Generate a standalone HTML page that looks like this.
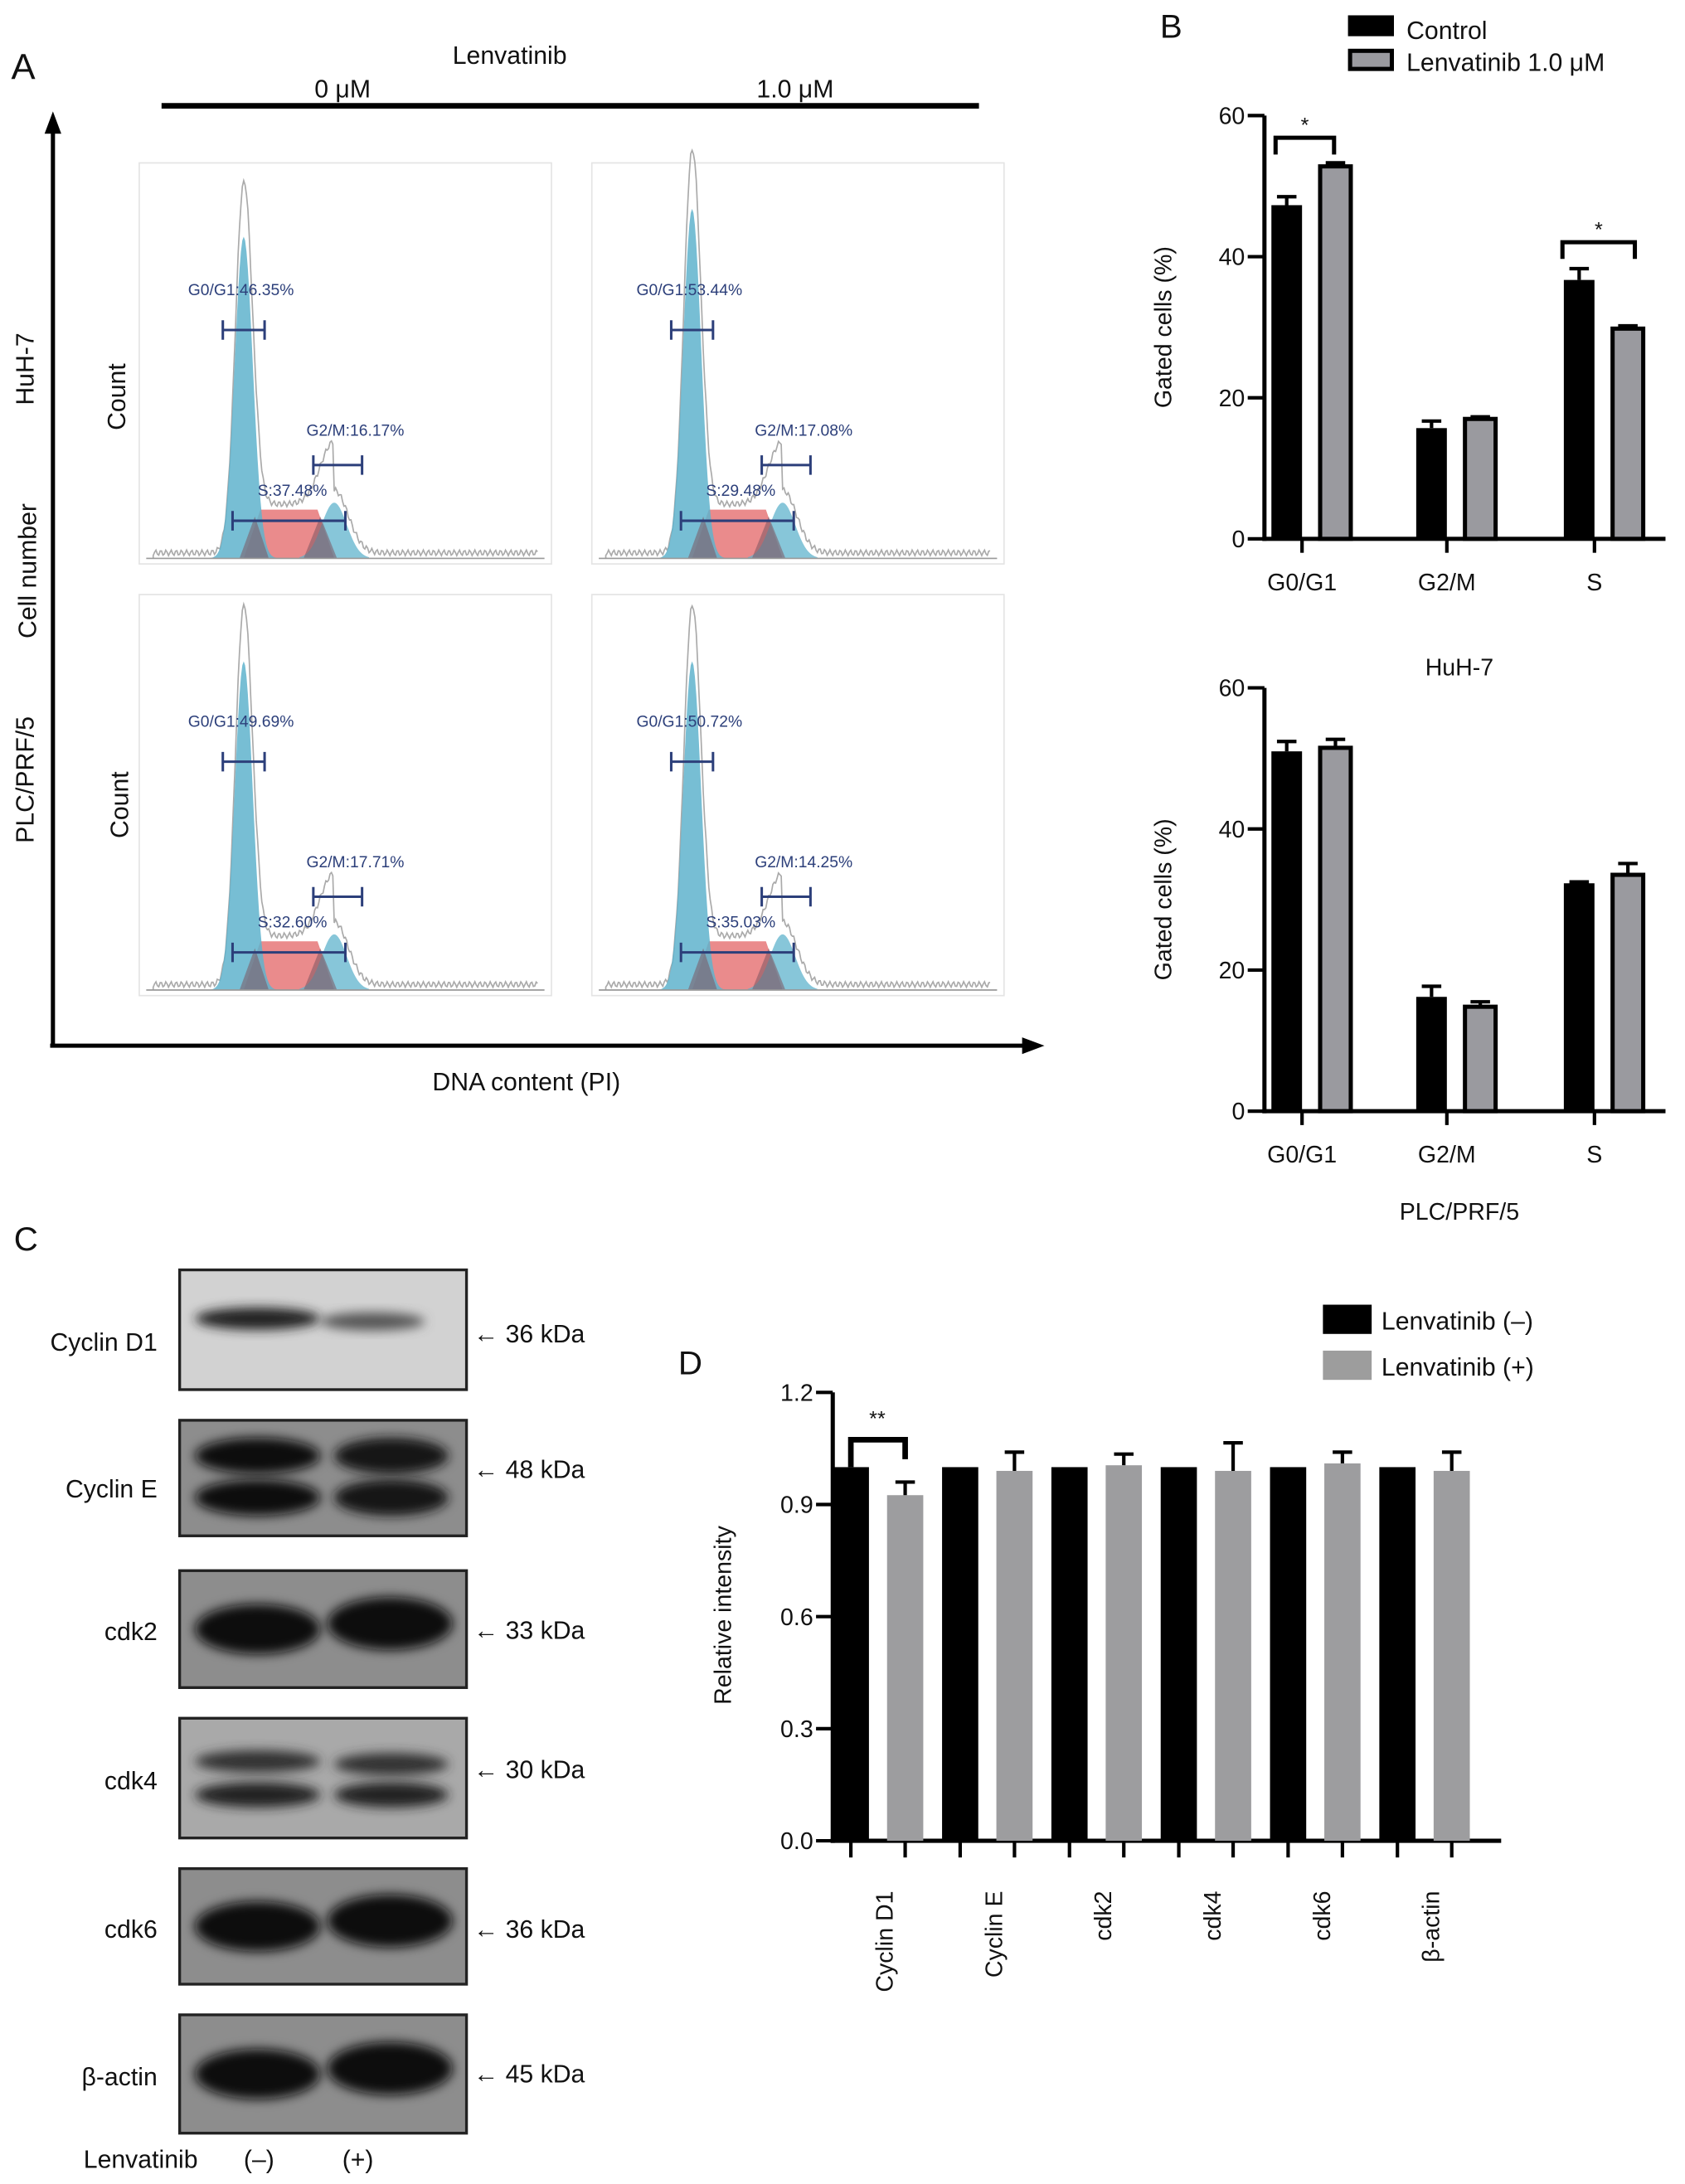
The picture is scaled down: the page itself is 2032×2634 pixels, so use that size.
<!DOCTYPE html>
<html><head><meta charset="utf-8"><style>
html,body{margin:0;padding:0;background:#fff}
svg{display:block}
text{font-family:"Liberation Sans",Arial,sans-serif;fill:#111}
</style></head><body>
<svg id="fig" xmlns="http://www.w3.org/2000/svg" width="2032" height="2634" viewBox="0 0 1210 1568.5">
<defs>
<filter id="blur2" x="-20%" y="-50%" width="140%" height="200%"><feGaussianBlur stdDeviation="4"/></filter>
</defs>
<g id="panelA">
<text x="8" y="57" font-size="26">A</text>
<text x="366" y="46" font-size="18" text-anchor="middle">Lenvatinib</text>
<text x="246" y="70" font-size="18" text-anchor="middle" font-family="Liberation Serif">0 μM</text>
<text x="571" y="70" font-size="18" text-anchor="middle" font-family="Liberation Serif">1.0 μM</text>
<line x1="116" y1="76" x2="703" y2="76" stroke="#000" stroke-width="4"/>
<line x1="38" y1="752" x2="38" y2="92" stroke="#000" stroke-width="3"/>
<polygon points="38,80 32,96 44,96" fill="#000"/>
<line x1="36" y1="751" x2="736" y2="751" stroke="#000" stroke-width="3"/>
<polygon points="750,751 734,745 734,757" fill="#000"/>
<text transform="translate(24,265) rotate(-90)" font-size="18" text-anchor="middle">HuH-7</text>
<text transform="translate(26,410) rotate(-90)" font-size="18" text-anchor="middle">Cell number</text>
<text transform="translate(24,560) rotate(-90)" font-size="18" text-anchor="middle">PLC/PRF/5</text>
<text transform="translate(90,285) rotate(-90)" font-size="18" text-anchor="middle">Count</text>
<text transform="translate(92,578) rotate(-90)" font-size="18" text-anchor="middle">Count</text>
<text x="378" y="783" font-size="18" text-anchor="middle">DNA content (PI)</text>
</g>
<g id="panelB">
<text x="833" y="27" font-size="24">B</text>
<rect x="968" y="11" width="33" height="15" fill="#000"/>
<text x="1010" y="28" font-size="18">Control</text>
<rect x="969.5" y="36.5" width="30" height="13" fill="#9a9a9f" stroke="#000" stroke-width="3"/>
<text x="1010" y="51" font-size="18">Lenvatinib 1.0 μM</text>
<text x="1048" y="485" font-size="17" text-anchor="middle">HuH-7</text>
<text x="1048" y="876" font-size="17" text-anchor="middle">PLC/PRF/5</text>
</g>
<g id="panelC">
<text x="10" y="898" font-size="24">C</text>
<text x="60" y="1557" font-size="18">Lenvatinib</text>
<text x="186" y="1557" font-size="18" text-anchor="middle">(–)</text>
<text x="257" y="1557" font-size="18" text-anchor="middle">(+)</text>
</g>
<g id="panelD">
<text x="487" y="987" font-size="24">D</text>
<rect x="950" y="937" width="35" height="21" fill="#000"/>
<text x="992" y="955" font-size="18">Lenvatinib (–)</text>
<rect x="950" y="970" width="35" height="21" fill="#9d9d9d"/>
<text x="992" y="988" font-size="18">Lenvatinib (+)</text>
<text transform="translate(525,1160) rotate(-90)" font-size="17" text-anchor="middle">Relative intensity</text>
</g>
</svg>
<script>
const NS="http://www.w3.org/2000/svg";
const svg=document.getElementById('fig');
function mk(tag,attrs,parent){const e=document.createElementNS(NS,tag);for(const k in attrs)e.setAttribute(k,attrs[k]);(parent||svg).appendChild(e);return e;}

// ---------- Panel B data ----------
const phaseCats=["G0/G1","G2/M","S"];
const huhControl=[47.3,15.7,36.7];
const huhControlErr=[1.2,1.0,1.6];
const huhLenv=[52.8,17.0,29.8];
const huhLenvErr=[0.5,0.3,0.4];
const plcControl=[51.0,16.2,32.3];
const plcControlErr=[1.4,1.5,0.2];
const plcLenv=[51.5,14.8,33.5];
const plcLenvErr=[1.2,0.7,1.6];
const bTicks=[0,20,40,60];

// ---------- Panel D data ----------
const proteins=["Cyclin D1","Cyclin E","cdk2","cdk4","cdk6","β-actin"];
const dMinus=[1,1,1,1,1,1];
const dPlus=[0.925,0.99,1.005,0.99,1.01,0.99];
const dPlusErr=[0.035,0.05,0.03,0.075,0.03,0.05];
const dTicks=[0.0,0.3,0.6,0.9,1.2];

// ---------- Panel A data ----------
const gateG1=["G0/G1:46.35%","G0/G1:53.44%","G0/G1:49.69%","G0/G1:50.72%"];
const gateG2=["G2/M:16.17%","G2/M:17.08%","G2/M:17.71%","G2/M:14.25%"];
const gateS=["S:37.48%","S:29.48%","S:32.60%","S:35.03%"];

// ---------- Panel C data ----------
const blotNames=["Cyclin D1","Cyclin E","cdk2","cdk4","cdk6","β-actin"];
const blotKda=["36 kDa","48 kDa","33 kDa","30 kDa","36 kDa","45 kDa"];

function barChart(cfg){
  const g=mk('g',{});
  
  
  const y=v=>cfg.y0-(v-cfg.min)/(cfg.max-cfg.min)*(cfg.y0-cfg.yTop);
  const ax=mk('line',{x1:cfg.ax,y1:cfg.yTop,x2:cfg.ax,y2:cfg.y0+1.5,stroke:'#000','stroke-width':3},g);
  
  
  const xl=mk('line',{x1:cfg.ax-1.5,y1:cfg.y0,x2:cfg.xEnd,y2:cfg.y0,stroke:'#000','stroke-width':3},g);
  
  
  cfg.ticks.forEach(t=>{
    const tl=mk('line',{x1:cfg.ax-12,y1:y(t),x2:cfg.ax,y2:y(t),stroke:'#000','stroke-width':2.5},g);
    
    
    const tt=mk('text',{x:cfg.ax-14,y:y(t)+6,'font-size':17,'text-anchor':'end'},g);
    tt.textContent=cfg.fmt(t);
    
    
  });
  cfg.series.forEach(s=>{
    s.vals.forEach((v,i)=>{
      const cx=cfg.cx(i,s.idx);
      const r=mk('rect',{x:cx-cfg.bw/2,y:y(v),width:cfg.bw,height:cfg.y0-y(v),fill:s.fill,stroke:s.stroke||'none','stroke-width':s.stroke?3:0},g);
      
      
      if(s.err&&s.err[i]>0.0001){
        const e=mk('path',{d:`M${cx},${y(v)} V${y(v+s.err[i])} M${cx-7},${y(v+s.err[i])} H${cx+7}`,stroke:'#000','stroke-width':2.5,fill:'none'},g);
        
        
      }
      if(cfg.tickEach){
        const tk=mk('line',{x1:cx,y1:cfg.y0,x2:cx,y2:cfg.y0+12,stroke:'#000','stroke-width':2.5},g);
        
        
      }
    });
  });
  return {g,y};
}

[[huhControl,huhControlErr,huhLenv,huhLenvErr,387,83,'huh7-chart',true],
 [plcControl,plcControlErr,plcLenv,plcLenvErr,798,494,'plc-chart',false]].forEach(p=>{
  const gx=i=>[942,1046,1152][i];
  const c=barChart({name:p[6],ax:908,y0:p[4],yTop:p[5],xEnd:1196,min:0,max:60,ticks:bTicks,fmt:t=>String(t),bw:22,
    cx:(i,k)=>gx(i)+(k?17:-18),
    series:[{key:'control',vals:p[0],err:p[1],fill:'#000',idx:0},{key:'lenvatinib',vals:p[2],err:p[3],fill:'#9a9a9f',stroke:'#000',idx:1}]});
  phaseCats.forEach((cat,i)=>{
    const tk=mk('line',{x1:gx(i)-7,y1:p[4],x2:gx(i)-7,y2:p[4]+10,stroke:'#000','stroke-width':2.5},c.g);
    
    
    const t=mk('text',{x:gx(i)-7,y:p[4]+37,'font-size':17,'text-anchor':'middle'},c.g);
    t.textContent=cat;
    
    
  });
  const yt=mk('text',{transform:`translate(841,${(p[4]+p[5])/2}) rotate(-90)`,'font-size':17,'text-anchor':'middle'},c.g);
  yt.textContent='Gated cells (%)';
  
  
  if(p[7]){
    [[916,958,c.y(53.3)-4],[1122,1174,c.y(38.5)-4]].forEach(b=>{
      const by=b[2]-14;
      const br=mk('path',{d:`M${b[0]},${by+12} V${by} H${b[1]} V${by+12}`,stroke:'#000','stroke-width':3,fill:'none'},c.g);
      
      
      const st=mk('text',{x:(b[0]+b[1])/2,y:by-4,'font-size':15,'text-anchor':'middle'},c.g);
      st.textContent='*';
      
      
    });
  }
});

(function(){
  const px=i=>630+i*78.5;
  const c=barChart({name:'relative-intensity-chart',ax:598,y0:1322,yTop:1000,xEnd:1078,min:0,max:1.2,ticks:dTicks,fmt:t=>t.toFixed(1),bw:26,tickEach:true,
    cx:(i,k)=>px(i)+(k?20:-19),
    series:[{key:'minus',vals:dMinus,err:null,fill:'#000',idx:0},{key:'plus',vals:dPlus,err:dPlusErr,fill:'#9d9d9f',idx:1}]});
  proteins.forEach((p,i)=>{
    const t=mk('text',{transform:`translate(${px(i)+11},1358) rotate(-90)`,'font-size':17,'text-anchor':'end'},c.g);
    t.textContent=p;
    
    
  });
  const by=1034;
  const br=mk('path',{d:`M${px(0)-19},${c.y(1)} V${by} H${px(0)+20} V${by+14}`,stroke:'#000','stroke-width':4,fill:'none'},c.g);
  
  
  const st=mk('text',{x:px(0),y:1024,'font-size':15,'text-anchor':'middle'},c.g);
  st.textContent='**';
  
  
})();

const boxes=[[100,117],[425,117],[100,427],[425,427]];
const peakTop=[150,130,460,460];
boxes.forEach((b,k)=>{
  const x0=b[0],y0=b[1],w=296,h=288,base=y0+h-4;
  const g=mk('g',{});
  
  
  const bx=mk('rect',{x:x0,y:y0,width:w,height:h,fill:'#fff',stroke:'#e4e4e4','stroke-width':1},g);
  
  
  const g1=x0+(k%2?72:75), g2=g1+65;
  const H1=base-(k<2?(k?peakTop[1]+20:peakTop[0]+20):peakTop[k]+15);
  let p1=`M${g1-30},${base}`,p2='',ps=`M${g1},${base}`,po=`M${x0+10},${base}`;
  for(let x=g1-30;x<=g1+30;x++){p1+=` L${x},${base-H1*Math.exp(-((x-g1)**2)/(2*6.5*6.5))}`;}
  for(let x=g2-25;x<=g2+25;x++){p2+=` L${x},${base-40*Math.exp(-((x-g2)**2)/(2*9*9))}`;}
  p2=`M${g2-25},${base}`+p2;
  for(let x=g1;x<=g2;x++){const e=Math.min(1,(x-g1)/12,(g2-x)/12);ps+=` L${x},${base-35*Math.max(0,e)}`;}
  for(let x=x0+10;x<=x0+w-10;x+=1){
    const v=H1*1.15*Math.exp(-((x-g1)**2)/(2*6*6))+(x>g1&&x<g2?35:0)*Math.min(1,(x-g1)/10,(g2-x+20)/20)+45*Math.exp(-((x-g2)**2)/(2*10*10))+2;
    po+=` L${x},${base-Math.max(0,v)-(Math.sin(x*1.7)+1)*2}`;
  }
  const o=mk('path',{d:po,stroke:'#aaa','stroke-width':1,fill:'none'},g);
  
  
  const s=mk('path',{d:ps+` L${g2},${base}Z`,fill:'#e87e80','fill-opacity':0.9},g);
  
  
  const a=mk('path',{d:p1+` L${g1+30},${base}Z`,fill:'#5fb3cc','fill-opacity':0.85},g);
  
  
  const c2=mk('path',{d:p2+` L${g2+25},${base}Z`,fill:'#5fb3cc','fill-opacity':0.75},g);
  
  
  const dk=mk('path',{d:`M${g1-3},${base} L${g1+8},${base-30} L${g1+18},${base}Z M${g2-22},${base} L${g2-10},${base-30} L${g2+2},${base}Z`,fill:'#7b5560','fill-opacity':0.55},g);
  
  
  const ax=mk('line',{x1:x0+5,y1:base,x2:x0+w-5,y2:base,stroke:'#999','stroke-width':1},g);
  
  
  const gates=[[g1-15,g1+15,y0+120,gateG1[k],g1-40,y0+95],[g2-15,g2+20,y0+217,gateG2[k],g2-20,y0+196],[g1-8,g2+8,base-27,gateS[k],g1+10,base-45]];
  gates.forEach(gt=>{
    const l=mk('path',{d:`M${gt[0]},${gt[2]-7} V${gt[2]+7} M${gt[0]},${gt[2]} H${gt[1]} M${gt[1]},${gt[2]-7} V${gt[2]+7}`,stroke:'#2c3f7a','stroke-width':1.8,fill:'none'},g);
    
    
    const t=mk('text',{x:gt[4],y:gt[5],'font-size':11.5},g);
    t.setAttribute('style','fill:#2c3f7a');
    t.textContent=gt[3];
    
    
  });
});

const blotY=[[912,998],[1020,1103],[1128,1212],[1234,1320],[1342,1425],[1447,1532]];
const kdaDy=[9,0,7,0,8,6];
const nameDy=[15,14,8,8,8,8];
blotY.forEach((b,i)=>{
  const g=mk('g',{});
  
  
  const bg=i===0?'#d2d2d2':(i===3?'#a9a9a9':'#8d8d8d');
  const r=mk('rect',{x:129,y:b[0],width:206,height:b[1]-b[0],fill:bg,stroke:'#222','stroke-width':2},g);
  
  
  const mid=(b[0]+b[1])/2;
  const bands=i===0?[[140,230,mid-8,10,'#222'],[230,305,mid-6,7,'#555']]:
    i===1?[[140,230,mid-16,20,'#111'],[240,322,mid-16,20,'#151515'],[140,230,mid+14,20,'#111'],[240,322,mid+14,20,'#151515']]:
    i===3?[[140,230,mid-12,10,'#333'],[240,322,mid-10,10,'#333'],[140,230,mid+12,12,'#222'],[240,322,mid+12,12,'#222']]:
    [[140,230,mid,30,'#101010'],[235,325,mid-4,32,'#101010']];
  bands.forEach(bd=>{
    const e=mk('ellipse',{cx:(bd[0]+bd[1])/2,cy:bd[2],rx:(bd[1]-bd[0])/2,ry:bd[3]/2+3,fill:bd[4],filter:'url(#blur2)'},g);
    
    
  });
  const t=mk('text',{x:113,y:mid+nameDy[i],'font-size':18,'text-anchor':'end'},g);
  t.textContent=blotNames[i];
  
  
  const k=mk('text',{x:340,y:mid+kdaDy[i],'font-size':18},g);
  k.textContent='\u2190 '+blotKda[i];
  k.setAttribute('style','font-size:18px');
  
  
});
</script>
</body></html>
